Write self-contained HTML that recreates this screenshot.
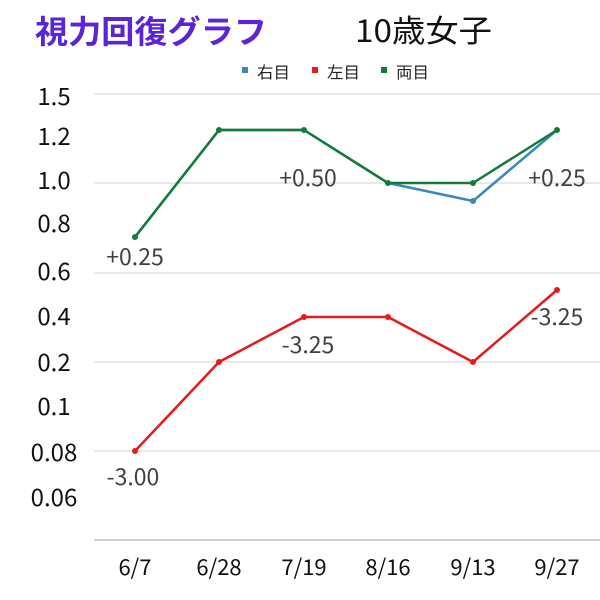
<!DOCTYPE html>
<html><head><meta charset="utf-8"><style>
html,body{margin:0;padding:0;background:#fff;}
svg{display:block;}
text{font-family:"Liberation Sans","Noto Sans CJK JP",sans-serif;}
.cjk{font-family:"Noto Sans CJK JP","Liberation Sans",sans-serif;}
</style></head><body>
<svg width="600" height="600" viewBox="0 0 600 600" xmlns="http://www.w3.org/2000/svg">
<rect width="600" height="600" fill="#fff"/>
<text class="cjk" x="35" y="43" font-size="32" font-weight="bold" fill="#5a24d8" textLength="232" lengthAdjust="spacingAndGlyphs">視力回復グラフ</text>
<text class="cjk" x="355" y="42" font-size="31" fill="#111" textLength="137" lengthAdjust="spacingAndGlyphs">10歳女子</text>
<!-- legend -->
<rect x="242" y="67" width="6" height="6" fill="#3a87bb"/>
<text class="cjk" x="257" y="78" font-size="16" fill="#222" textLength="33" lengthAdjust="spacingAndGlyphs">右目</text>
<rect x="312" y="67" width="6" height="6" fill="#e31b1b"/>
<text class="cjk" x="327" y="78" font-size="16" fill="#222" textLength="33" lengthAdjust="spacingAndGlyphs">左目</text>
<rect x="381" y="67" width="6" height="6" fill="#137a3a"/>
<text class="cjk" x="396" y="78" font-size="16" fill="#222" textLength="33" lengthAdjust="spacingAndGlyphs">両目</text>
<!-- gridlines -->
<g stroke="#d9d9d9" stroke-width="1.2">
<line x1="94" y1="94" x2="600" y2="94"/>
<line x1="94" y1="183" x2="600" y2="183"/>
<line x1="94" y1="273" x2="600" y2="273"/>
<line x1="94" y1="362" x2="600" y2="362"/>
<line x1="94" y1="451" x2="600" y2="451"/>
</g>
<line x1="94" y1="540" x2="600" y2="540" stroke="#b5b5b5" stroke-width="1.3"/>
<!-- y labels -->
<g font-size="24" fill="#111" text-anchor="middle">
<text class="cjk" x="54" y="105">1.5</text>
<text class="cjk" x="54" y="145">1.2</text>
<text class="cjk" x="54" y="189">1.0</text>
<text class="cjk" x="54" y="232">0.8</text>
<text class="cjk" x="54" y="280">0.6</text>
<text class="cjk" x="54" y="325">0.4</text>
<text class="cjk" x="54" y="371">0.2</text>
<text class="cjk" x="54" y="415">0.1</text>
<text class="cjk" x="54" y="461">0.08</text>
<text class="cjk" x="54" y="506">0.06</text>
</g>
<!-- x labels -->
<g font-size="22" fill="#111" text-anchor="middle">
<text class="cjk" x="135" y="575">6/7</text>
<text class="cjk" x="219" y="575">6/28</text>
<text class="cjk" x="304" y="575">7/19</text>
<text class="cjk" x="388" y="575">8/16</text>
<text class="cjk" x="473" y="575">9/13</text>
<text class="cjk" x="557" y="575">9/27</text>
</g>
<!-- series -->
<g fill="none" stroke-width="2.5" stroke-linejoin="round">
<polyline stroke="#3a87bb" points="135,237 219,130 304,130 388,183 473,201 557,130"/>
<polyline stroke="#e31b1b" points="135,451 219,362 304,317 388,317 473,362 557,290"/>
<polyline stroke="#137a3a" points="135,237 219,130 304,130 388,183 473,183 557,130"/>
</g>
<g fill="#3a87bb">
<circle cx="473" cy="201" r="3"/>
</g>
<g fill="#e31b1b">
<circle cx="135" cy="451" r="3"/><circle cx="219" cy="362" r="3"/><circle cx="304" cy="317" r="3"/>
<circle cx="388" cy="317" r="3"/><circle cx="473" cy="362" r="3"/><circle cx="557" cy="290" r="3"/>
</g>
<g fill="#137a3a">
<circle cx="135" cy="237" r="3"/><circle cx="219" cy="130" r="3"/><circle cx="304" cy="130" r="3"/>
<circle cx="388" cy="183" r="3"/><circle cx="473" cy="183" r="3"/><circle cx="557" cy="130" r="3"/>
</g>
<!-- data labels -->
<g font-size="23" fill="#404040" text-anchor="middle">
<text class="cjk" x="135" y="265">+0.25</text>
<text class="cjk" x="308" y="186">+0.50</text>
<text class="cjk" x="557" y="186">+0.25</text>
<text class="cjk" x="133" y="485">-3.00</text>
<text class="cjk" x="308" y="353">-3.25</text>
<text class="cjk" x="557" y="325">-3.25</text>
</g>
</svg>
</body></html>
